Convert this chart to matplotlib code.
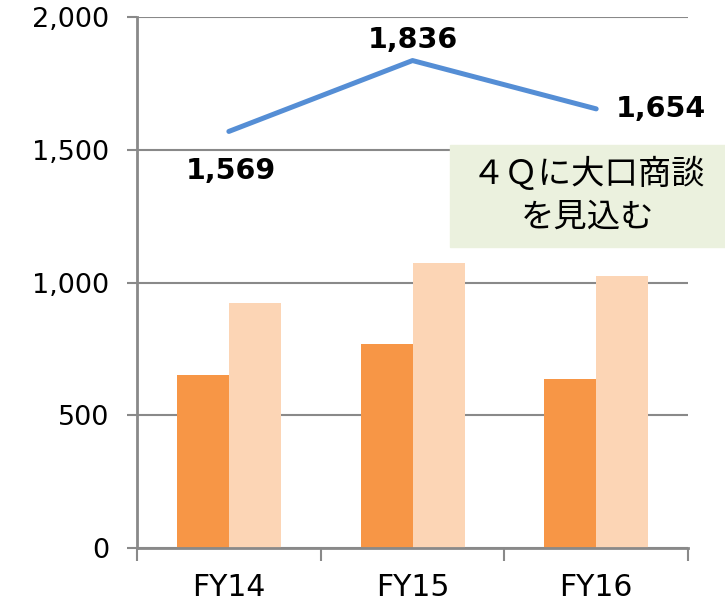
import matplotlib
matplotlib.use('Agg')
import matplotlib.pyplot as plt
import numpy as np

categories = ['FY14', 'FY15', 'FY16']
bar_dark = [652, 768, 636]
bar_light = [923, 1073, 1024]
line_vals = [1569, 1836, 1654]
y_ticks = [0, 500, 1000, 1500, 2000]

GRAY = '#898989'

fig = plt.figure(figsize=(7.25, 6.03), dpi=100)
ax = fig.add_axes([0.189, 0.0912, 0.760, 0.8806])

x = np.arange(len(categories))
w = 0.283
ax.bar(x - w/2, bar_dark, w, color='#F79646', zorder=2)
ax.bar(x + w/2, bar_light, w, color='#FCD5B5', zorder=2)
ax.plot(x, line_vals, color='#558ED5', lw=3.6, solid_capstyle='round', zorder=3)

# data labels
offsets = [(0.01, -148), (0.0, 78), (0.35, 0)]
for xi, v, (dx, dy) in zip(x, line_vals, offsets):
    ax.text(xi + dx, v + dy, f'{v:,}', ha='center', va='center',
            fontsize=20.5, fontweight='bold', color='black', zorder=4)

ax.set_xlim(-0.5, 2.5)
ax.set_ylim(0, 2000)
ax.set_yticks(y_ticks)
ax.set_yticklabels([f'{t:,}' for t in y_ticks], fontsize=19.5)
ax.set_xticks(x)
ax.set_xticklabels(categories, fontsize=21.5)
ax.set_xticks([-0.5, 0.5, 1.5, 2.5], minor=True)
ax.tick_params(axis='x', which='major', length=0, pad=18)
ax.tick_params(axis='x', which='minor', length=9, width=1.5, color=GRAY)
ax.tick_params(axis='y', length=7, width=1.5, color=GRAY, pad=13)

for s in ['top', 'right']:
    ax.spines[s].set_visible(False)
for s in ['left', 'bottom']:
    ax.spines[s].set_color(GRAY)
    ax.spines[s].set_linewidth(2)
ax.yaxis.grid(True, color=GRAY, lw=1.5, zorder=0)
ax.set_axisbelow(True)

# annotation box
fig.patches.append(plt.Rectangle((450/725, 1 - 247/603), 275/725, 102/603,
                                 transform=fig.transFigure, color='#EBF1DE',
                                 zorder=5))
fig.text(588/725, 1 - 196/603, '４Ｑに大口商談\nを見込む', ha='center', va='center',
         fontsize=24, family=['Noto Sans CJK JP', 'DejaVu Sans'],
         linespacing=1.3, zorder=6)

fig.savefig('out.png', dpi=100)
